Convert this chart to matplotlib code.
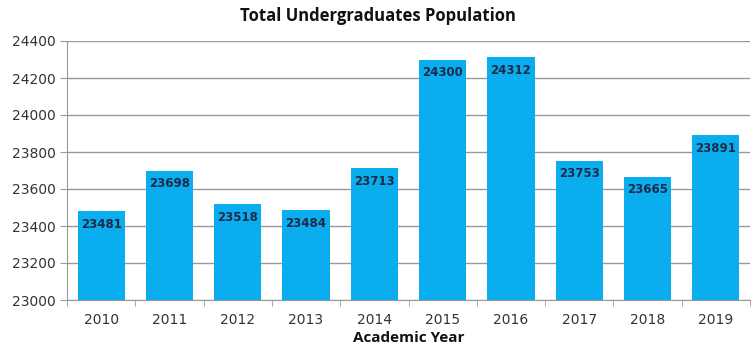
import matplotlib.pyplot as plt
from matplotlib.ticker import FixedLocator

years = ["2010", "2011", "2012", "2013", "2014", "2015", "2016", "2017", "2018", "2019"]
population = [23481, 23698, 23518, 23484, 23713, 24300, 24312, 23753, 23665, 23891]

plt.rcParams["font.family"] = ["DejaVu Sans"]

fig = plt.figure(figsize=(7.56, 3.51), dpi=100)
ax = fig.add_axes([67 / 756, 1 - 300 / 351, 683 / 756, 259 / 351])

x = list(range(len(years)))
bars = ax.bar(x, population, width=0.69, color="#0AAEEE", zorder=3)

for rect, val in zip(bars, population):
    ax.annotate(str(val), (rect.get_x() + rect.get_width() / 2, val),
                xytext=(0, -13), textcoords="offset pixels",
                ha="center", va="center", fontsize=8.5, fontweight="bold",
                color="#1B2A48", zorder=4)

ax.set_xlim(-0.5, len(years) - 0.5)
ax.set_ylim(23000, 24400)
ax.set_yticks(range(23000, 24401, 200))
ax.set_xticks(x)
ax.set_xticklabels(years)
ax.xaxis.set_minor_locator(FixedLocator([i + 0.5 for i in range(-1, len(years))]))
ax.tick_params(axis="x", which="major", length=0, pad=9, labelsize=10, labelcolor="#333333")
ax.tick_params(axis="x", which="minor", length=4, color="#999999", direction="out")
ax.tick_params(axis="y", length=5, color="#999999", labelsize=10, labelcolor="#333333", pad=3)

ax.grid(axis="y", color="#999999", linewidth=1, zorder=0)
for s in ["top", "right"]:
    ax.spines[s].set_visible(False)
ax.spines["left"].set_color("#999999")
ax.spines["bottom"].set_color("#999999")

fig.text(0.5, 1 - 16 / 351, "Total Undergraduates Population", ha="center", va="center",
         fontsize=12, fontweight="bold", color="#111111", family="Open Sans")
fig.text((67 + 750) / 2 / 756, 1 - 338 / 351, "Academic Year", ha="center", va="center",
         fontsize=11, fontweight="bold", color="#111111", family="Open Sans")

fig.savefig("out.png", dpi=100)
